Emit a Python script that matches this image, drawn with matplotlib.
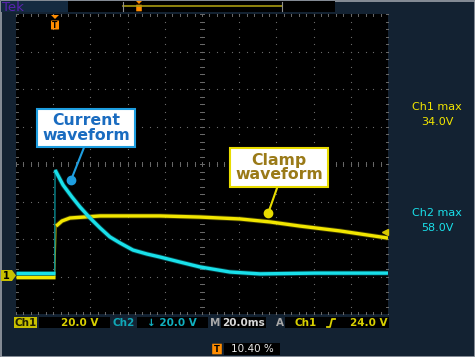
import matplotlib
matplotlib.use("Agg")
import matplotlib.pyplot as plt
from matplotlib.patches import Rectangle, Polygon, FancyBboxPatch
import numpy as np

# trace data (time in ms, volts)
ch2_t = [-20.8, -0.3, 0.0, 0.2, 4.5, 9.3, 13.6, 19.0, 24.4, 29.7, 35.1, 42.1,
         49.6, 56.6, 67.4, 78.1, 94.2, 110.3, 140.0, 179.2]
ch2_v = [1.8, 1.8, 1.8, 56.8, 48.8, 42.4, 37.1, 31.2, 25.9, 21.1, 17.9, 14.1,
         12.0, 10.4, 7.7, 5.1, 2.4, 1.4, 1.8, 1.8]

ch1_t = [-20.8, -0.3, 0.0, 0.8, 3.9, 8.2, 24.4, 56.6, 78.1, 99.6, 115.8, 131.9,
         153.4, 179.2]
ch1_v = [0.0, 0.0, 0.0, 26.9, 29.6, 31.2, 32.3, 32.3, 31.7, 30.7, 29.1, 26.9,
         24.3, 20.5]

ch1_max = "34.0V"
ch2_max = "58.0V"

YEL = "#f2e600"
CYA = "#19e0ea"
NAVY = "#132232"
GRID = "#6a6a6a"

fig = plt.figure(figsize=(4.75, 3.57), dpi=100)
fig.patch.set_facecolor(NAVY)

# overlay canvas in pixel coordinates (transparent, sits on top)
bg = fig.add_axes([0, 0, 1, 1])
bg.set_xlim(0, 475)
bg.set_ylim(357, 0)
bg.axis("off")
bg.set_zorder(3)
bg.patch.set_visible(False)
bg.add_patch(Rectangle((0.5, 0.5), 474, 356, fc="none", ec="#9aa0a8", lw=1.2))

# top bar
bg.add_patch(Rectangle((1, 1), 67, 11, fc="#142a40", ec="none"))
bg.text(1.5, 7.5, "Tek", color="#5a22b0", fontsize=9.5, va="center", ha="left")
bg.add_patch(Rectangle((68, 1), 267, 11, fc="black", ec="none"))
bg.plot([123, 282], [6, 6], color="#a89a10", lw=1.2)
bg.plot([123, 123], [1.5, 10.5], color="#909090", lw=0.8)
bg.plot([282, 282], [1.5, 10.5], color="#909090", lw=0.8)
bg.add_patch(Polygon([[136, 1], [142, 1], [139, 4]], closed=True, fc="#ff8c00"))
bg.add_patch(FancyBboxPatch((136.5, 5), 5, 6, boxstyle="round,pad=0.3",
                            fc="#ff8c00", ec="none"))

# right side readouts
bg.text(437, 107, "Ch1 max", color=YEL, fontsize=8, ha="center", va="center")
bg.text(437, 122, ch1_max, color=YEL, fontsize=8, ha="center", va="center")
bg.text(437, 213, "Ch2 max", color=CYA, fontsize=8, ha="center", va="center")
bg.text(437, 228, ch2_max, color=CYA, fontsize=8, ha="center", va="center")

# bottom readout bar
fs = 7.5
bg.add_patch(Rectangle((14, 317), 23, 11, fc="#c8c000", ec="none"))
bg.text(25.5, 322.5, "Ch1", color="#202000", fontsize=fs, ha="center", va="center",
        fontweight="bold")
bg.add_patch(Rectangle((39, 317), 71, 11, fc="black", ec="none"))
bg.text(80, 322.5, "20.0 V", color="#d8d000", fontsize=fs, ha="center", va="center",
        fontweight="bold")
bg.text(124, 322.5, "Ch2", color="#10a8b8", fontsize=fs, ha="center", va="center",
        fontweight="bold")
bg.add_patch(Rectangle((137, 317), 71, 11, fc="black", ec="none"))
bg.text(172, 322.5, "\u2193 20.0 V", color="#10b0c0", fontsize=fs, ha="center",
        va="center", fontweight="bold")
bg.text(215.5, 322.5, "M", color="#a8a8a8", fontsize=fs, ha="center", va="center",
        fontweight="bold")
bg.add_patch(Rectangle((221, 317), 45, 11, fc="black", ec="none"))
bg.text(243.5, 322.5, "20.0ms", color="#d8d8d8", fontsize=fs, ha="center",
        va="center", fontweight="bold")
bg.text(280, 322.5, "A", color="#a8a8a8", fontsize=fs, ha="center", va="center",
        fontweight="bold")
bg.add_patch(Rectangle((285, 317), 104, 11, fc="black", ec="none"))
bg.text(306, 322.5, "Ch1", color="#d8d000", fontsize=fs, ha="center", va="center",
        fontweight="bold")
bg.plot([327, 330, 332, 335], [327, 327, 319, 319], color="#d8d000", lw=1.3)
bg.text(387, 322.5, "24.0 V", color="#d8d000", fontsize=fs, ha="right",
        va="center", fontweight="bold")
bg.add_patch(FancyBboxPatch((212.5, 344), 9, 10, boxstyle="round,pad=0.3",
                            fc="#ff8c00", ec="none"))
bg.text(217, 349.3, "T", color="black", fontsize=6, ha="center", va="center",
        fontweight="bold")
bg.add_patch(Rectangle((224, 343), 56, 12, fc="black", ec="none"))
bg.text(252, 349, "10.40 %", color="#e8e8e8", fontsize=fs, ha="center",
        va="center")

# scope screen
x0, x1 = -20.8, 179.2
y0, y1 = -20.0, 140.0
ax = fig.add_axes([16 / 475, (357 - 314) / 357, 372 / 475, 300 / 357])
ax.set_facecolor("black")
ax.set_xlim(x0, x1)
ax.set_ylim(y0, y1)
ax.set_xticks([])
ax.set_yticks([])
for s in ax.spines.values():
    s.set_visible(False)

# graticule: dotted lines every division, ticks on the centre lines and edges
xdiv = x0 + 20 * np.arange(11)
ydiv = y0 + 20 * np.arange(9)
xsub = x0 + 4 * np.arange(51)
ysub = y0 + 4 * np.arange(41)
for xv in xdiv:
    ax.plot(np.full_like(ysub, xv), ysub, ls="none", marker="s", ms=0.8,
            color=GRID, mew=0)
for yv in ydiv:
    ax.plot(xsub, np.full_like(xsub, yv), ls="none", marker="s", ms=0.8,
            color=GRID, mew=0)
xc, yc = x0 + 100, y0 + 80
tx, ty = 1.1, 1.1
for xv in xsub:
    ax.plot([xv, xv], [yc - ty, yc + ty], color=GRID, lw=0.7)
    ax.plot([xv, xv], [y0, y0 + ty], color=GRID, lw=0.7)
    ax.plot([xv, xv], [y1 - ty, y1], color=GRID, lw=0.7)
for yv in ysub:
    ax.plot([xc - tx, xc + tx], [yv, yv], color=GRID, lw=0.7)
    ax.plot([x0, x0 + tx], [yv, yv], color=GRID, lw=0.7)
    ax.plot([x1 - tx, x1], [yv, yv], color=GRID, lw=0.7)

# traces: flat runs drawn thick, the fast edge drawn as a thin dim line
ax.plot(ch1_t[2:4], ch1_v[2:4], color="#a09400", lw=0.9)
ax.plot(ch2_t[2:4], ch2_v[2:4], color="#0a9aa2", lw=0.9)
for t, v, core, halo in [(ch1_t, ch1_v, YEL, "#8a8400"),
                         (ch2_t, ch2_v, CYA, "#0a8a92")]:
    for seg in (slice(0, 3), slice(3, None)):
        ax.plot(t[seg], v[seg], color=halo, lw=3.6, alpha=0.45,
                solid_joinstyle="round", solid_capstyle="butt")
        ax.plot(t[seg], v[seg], color=core, lw=2.4,
                solid_joinstyle="round", solid_capstyle="butt")

# trigger level marker on right edge
ax.plot([x1 - 1.5], [24.0], marker="<", ms=5, color="#d8c800", clip_on=False)

# callouts
ax.annotate("Current\nwaveform", xy=(8.8, 51.5), xytext=(16.8, 79.2),
            color="#1a6cc0", fontsize=11.3, fontweight="bold", ha="center",
            va="center", linespacing=0.95,
            bbox=dict(boxstyle="square,pad=0.3", fc="white", ec="#1e9ee0", lw=1.5),
            arrowprops=dict(arrowstyle="-", color="#1e9ee0", lw=1.5,
                            relpos=(0.5, 0), shrinkA=0, shrinkB=0))
ax.plot([8.8], [51.5], "o", color="#1e9ee0", ms=6)
ax.annotate("Clamp\nwaveform", xy=(114.8, 33.9), xytext=(120.6, 58.0),
            color="#9a7a18", fontsize=11.3, fontweight="bold", ha="center",
            va="center", linespacing=0.95,
            bbox=dict(boxstyle="square,pad=0.3", fc="white", ec="#e8dc00", lw=1.5),
            arrowprops=dict(arrowstyle="-", color="#e8dc00", lw=1.5,
                            relpos=(0.5, 0), shrinkA=0, shrinkB=0))
ax.plot([114.8], [33.9], "o", color="#e8dc00", ms=6)

# trigger position marker at top of screen and ground marker on the left
bg.add_patch(Polygon([[51, 15], [59, 15], [55, 19]], closed=True, fc="#ff8c00"))
bg.add_patch(FancyBboxPatch((51.5, 21), 7, 8, boxstyle="round,pad=0.5",
                            fc="#ff8c00", ec="none"))
bg.text(55, 25.3, "T", color="black", fontsize=5.5, ha="center", va="center",
        fontweight="bold")
bg.add_patch(Polygon([[1, 270], [12, 270], [16, 275.5], [12, 281], [1, 281]],
                     closed=True, fc="#c8c000", ec="none", zorder=5))
bg.text(6.5, 275.8, "1", color="black", fontsize=7, ha="center", va="center",
        fontweight="bold", zorder=6)

fig.savefig("out.png", dpi=100, facecolor=NAVY)
